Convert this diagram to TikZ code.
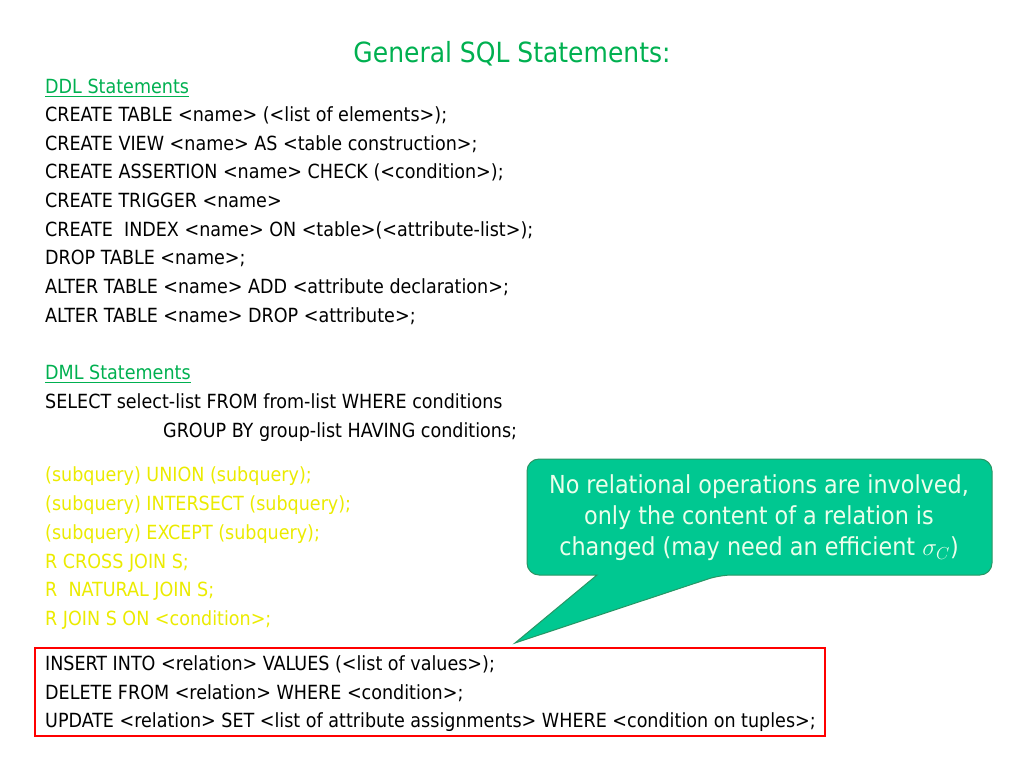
\documentclass[tikz,border=0pt]{standalone}
\usepackage{fontspec}
\setmainfont{DejaVu Sans Condensed}
\usepackage{amsmath}
\definecolor{tgreen}{RGB}{0,176,80}
\definecolor{tyellow}{RGB}{235,235,0}
\definecolor{cfill}{RGB}{0,200,145}
\definecolor{cdraw}{RGB}{40,150,100}
\begin{document}
\begin{tikzpicture}[x=1pt,y=-1pt,
  ln/.style={anchor=base west,inner sep=0pt,font=\fontsize{19.5}{22}\selectfont},
  hd/.style={ln,text=tgreen},
  yl/.style={ln,text=tyellow}]
\useasboundingbox (0,0) rectangle (1024,768);
\node[anchor=base,inner sep=0pt,text=tgreen,font=\fontsize{27.8}{30}\selectfont] (title) at (512,63) {General SQL Statements:};
\node[hd] (h1) at (45,93) {\underline{DDL Statements}};
\node[ln] (l1) at (45,121) {CREATE TABLE <name> (<list of elements>);};
\node[ln] (l2) at (45,150) {CREATE VIEW <name> AS <table construction>;};
\node[ln] (l3) at (45,178) {CREATE ASSERTION <name> CHECK (<condition>);};
\node[ln] (l4) at (45,207) {CREATE TRIGGER <name>};
\node[ln] (l5) at (45,236) {CREATE\ \ INDEX <name> ON <table>(<attribute-list>);};
\node[ln] (l6) at (45,264) {DROP TABLE <name>;};
\node[ln] (l7) at (45,293) {ALTER TABLE <name> ADD <attribute declaration>;};
\node[ln] (l8) at (45,322) {ALTER TABLE <name> DROP <attribute>;};
\node[hd] (h2) at (45,379) {\underline{DML Statements}};
\node[ln] (m1) at (45,408) {SELECT select-list FROM from-list WHERE conditions};
\node[ln] (m2) at (163,437) {GROUP BY group-list HAVING conditions;};
\node[yl] (y1) at (45,481) {(subquery) UNION (subquery);};
\node[yl] (y2) at (45,510) {(subquery) INTERSECT (subquery);};
\node[yl] (y3) at (45,539) {(subquery) EXCEPT (subquery);};
\node[yl] (y4) at (45,568) {R CROSS JOIN S;};
\node[yl] (y5) at (45,596) {R\ \ NATURAL JOIN S;};
\node[yl] (y6) at (45,625) {R JOIN S ON <condition>;};
\node[ln] (r1) at (45,670) {INSERT INTO <relation> VALUES (<list of values>);};
\node[ln] (r2) at (45,699) {DELETE FROM <relation> WHERE <condition>;};
\node[ln] (r3) at (45,727) {UPDATE <relation> SET <list of attribute assignments> WHERE <condition on tuples>;};
\draw[red,line width=2pt] (35,648) rectangle (825,736);
\coordinate (tip) at (515,643);
\draw[cdraw,fill=cfill,line width=1pt,rounded corners=12pt]
  (527,459) -- (992,459) -- (992,575) -- (720,575) [sharp corners]-- (tip) -- (597,575) [rounded corners=12pt] -- (527,575) -- cycle;
\node[align=center,text=white!92!green,font=\fontsize{24.8}{31}\selectfont,inner sep=0pt] (call) at (759,518)
  {No relational operations are involved,\\only the content of a relation is\\changed (may need an efficient $\sigma_C$)};
\end{tikzpicture}
\end{document}
